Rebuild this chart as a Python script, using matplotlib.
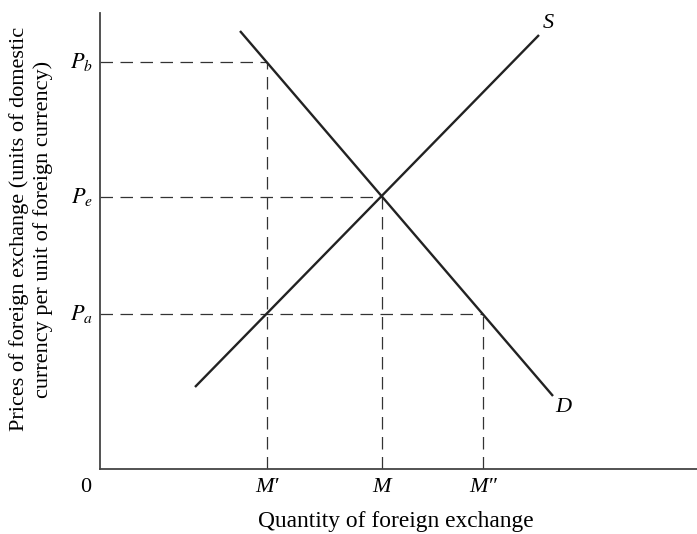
import matplotlib
matplotlib.use("Agg")
import matplotlib.pyplot as plt

plt.rcParams['font.family'] = ['Liberation Serif', 'DejaVu Serif']
plt.rcParams['mathtext.fontset'] = 'stix'

# price levels (vertical) and quantities (horizontal)
p_levels = [407, 272, 155]
p_labels = ['$P_b$', '$P_e$', '$P_a$']
q_levels = [167, 282, 383]
q_labels = ['M\u2032', 'M', 'M\u2033']

# supply / demand end points
supply_x = [95, 439]
supply_y = [82, 434]
demand_x = [140, 453]
demand_y = [438, 73]

# where each dashed guide stops
p_stop = [167, 282, 383]
q_stop = [407, 272, 155]

fig = plt.figure(figsize=(6.97, 5.34), dpi=100)
ax = fig.add_axes([100 / 697, 65 / 534, 597 / 697, 456 / 534])
ax.set_xlim(0, 597)
ax.set_ylim(0, 456)

ink = '#222222'
for p, x1 in zip(p_levels, p_stop):
    ax.plot([0, x1], [p, p], color='#333333', lw=0.9, dashes=(10, 6))
for q, y1 in zip(q_levels, q_stop):
    ax.plot([q, q], [0, y1], color='#333333', lw=0.9, dashes=(10, 6))

ax.plot(supply_x, supply_y, color=ink, lw=1.7, solid_capstyle='butt')
ax.plot(demand_x, demand_y, color=ink, lw=1.7, solid_capstyle='butt')
ax.text(448, 445, 'S', fontsize=16, style='italic', ha='center', va='center')
ax.text(463, 62, 'D', fontsize=16, style='italic', ha='center', va='center')

for p, lab in zip(p_levels, p_labels):
    ax.text(-7, p, lab, fontsize=16, ha='right', va='center')
for q, lab in zip(q_levels, q_labels):
    ax.text(q, -18, lab, fontsize=16, style='italic', ha='center', va='center')
ax.text(-14, -18, '0', fontsize=16, ha='center', va='center')

for side in ['top', 'right']:
    ax.spines[side].set_visible(False)
for side in ['left', 'bottom']:
    ax.spines[side].set_color('#444444')
    ax.spines[side].set_linewidth(1.3)
ax.set_xticks([])
ax.set_yticks([])

fig.text(396 / 697, 1 - 522 / 534, 'Quantity of foreign exchange',
         fontsize=16.8, ha='center', va='center')
fig.text(31 / 697, 1 - 229 / 534,
         'Prices of foreign exchange (units of domestic\ncurrency per unit of foreign currency)',
         fontsize=16, ha='center', va='center', rotation=90, linespacing=1.3)

fig.savefig('out.png', dpi=100)
